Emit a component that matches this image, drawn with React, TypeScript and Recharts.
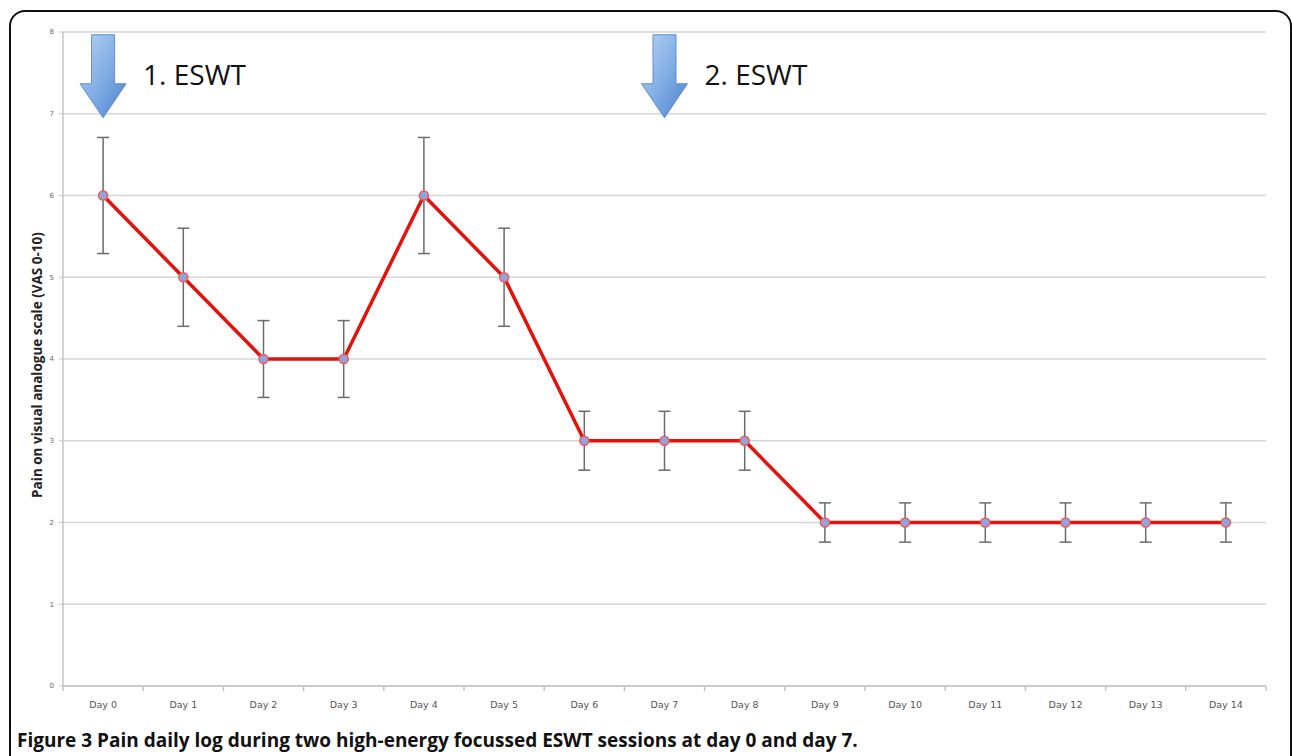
import React from 'react';
import {
  LineChart, Line, XAxis, YAxis, CartesianGrid, ErrorBar, ReferenceDot,
} from 'recharts';

// daily log, VAS 0-10
const dayLabels = ['Day 0', 'Day 1', 'Day 2', 'Day 3', 'Day 4', 'Day 5', 'Day 6', 'Day 7',
  'Day 8', 'Day 9', 'Day 10', 'Day 11', 'Day 12', 'Day 13', 'Day 14'];
const painValues = [6, 5, 4, 4, 6, 5, 3, 3, 3, 2, 2, 2, 2, 2, 2];
const painErrors = [0.71, 0.6, 0.47, 0.47, 0.71, 0.6, 0.36, 0.36, 0.36, 0.24, 0.24, 0.24, 0.24, 0.24, 0.24];
const yTicks = [0, 1, 2, 3, 4, 5, 6, 7, 8];
const sessions = [
  { day: 0, label: '1. ESWT' },
  { day: 7, label: '2. ESWT' },
];

const data = dayLabels.map((name, i) => ({ x: i, name, pain: painValues[i], err: painErrors[i] }));
// category centres for labels, boundaries for the tick marks
const xTicks = [
  ...dayLabels.map((_, i) => i),
  ...Array.from({ length: dayLabels.length + 1 }, (_, i) => i - 0.5),
];

const AXIS_GREY = '#c4c4c4';

const XTick = ({ x, y, payload }: any) => {
  const v = payload.value as number;
  if (!Number.isInteger(v)) {
    return <line x1={x} x2={x} y1={y - 5} y2={y} stroke={AXIS_GREY} strokeWidth={1.5} />;
  }
  return (
    <text x={x} y={y + 17} textAnchor="middle" fontSize={9.5} fill="#555" fontFamily="'DejaVu Sans', sans-serif">
      {dayLabels[v]}
    </text>
  );
};

const Marker = ({ cx, cy }: any) => (
  <circle cx={cx} cy={cy} r={4.5} fill="#93a3dd" stroke="#ec5a5a" strokeWidth={1.5} />
);

const SessionArrow = (label: string) => ({ cx, cy }: any) => (
  <g>
    <polygon
      points={`${cx - 11.5},${cy - 79} ${cx + 11.5},${cy - 79} ${cx + 11.5},${cy - 30} ${cx + 23},${cy - 30} ${cx},${cy + 4} ${cx - 23},${cy - 30} ${cx - 11.5},${cy - 30}`}
      fill="url(#arrowFill)"
      stroke="#5d8fd0"
      strokeWidth={1}
    />
    <text x={cx + 40} y={cy - 29} fontSize={28} fill="#111" fontFamily="'Open Sans', sans-serif">
      {label}
    </text>
  </g>
);

const YLabel = ({ viewBox }: any) => {
  const cx = viewBox.x + 24;
  const cy = viewBox.y + viewBox.height / 2 + 6;
  return (
    <text x={cx} y={cy} transform={`rotate(-90, ${cx}, ${cy})`} textAnchor="middle" dominantBaseline="central"
      fontSize={13.5} fontWeight="bold" fill="#222" fontFamily="'Open Sans', sans-serif">
      Pain on visual analogue scale (VAS 0-10)
    </text>
  );
};

export default function App() {
  return (
    <div style={{ position: 'absolute', left: 0, top: 0, width: 1292, height: 756, background: '#fff', overflow: 'hidden' }}>
      <div style={{
        position: 'absolute', left: 9, top: 10, width: 1279, height: 800,
        border: '2px solid #111', borderRadius: 16,
      }} />
      <div style={{ position: 'absolute', left: 0, top: 0 }}>
        <LineChart width={1292} height={756} data={data} margin={{ top: 32, right: 26, left: 13, bottom: 40 }}>
          <defs>
            <linearGradient id="arrowFill" x1="0" y1="0" x2="1" y2="1">
              <stop offset="0%" stopColor="#b9d3f2" />
              <stop offset="55%" stopColor="#7eaae4" />
              <stop offset="100%" stopColor="#4a80cb" />
            </linearGradient>
          </defs>
          <CartesianGrid vertical={false} stroke="#d6d6d6" strokeWidth={1.5} />
          <XAxis
            dataKey="x"
            type="number"
            domain={[-0.5, 14.5]}
            ticks={xTicks}
            interval={0}
            tick={<XTick />}
            tickLine={false}
            tickSize={5}
            tickMargin={0}
            axisLine={{ stroke: AXIS_GREY, strokeWidth: 1.5 }}
            height={30}
            allowDecimals
          />
          <YAxis
            type="number"
            domain={[0, 8]}
            ticks={yTicks}
            interval={0}
            width={50}
            tickSize={4}
            tickMargin={5}
            tick={{ fontSize: 7, fill: '#666', fontFamily: "'DejaVu Sans', sans-serif" }}
            tickLine={{ stroke: AXIS_GREY }}
            axisLine={{ stroke: AXIS_GREY, strokeWidth: 1.5 }}
            label={{ content: <YLabel /> } as any}
          />
          <Line
            dataKey="pain"
            stroke="#e4120c"
            strokeWidth={3.5}
            dot={<Marker />}
            activeDot={false}
            isAnimationActive={false}
          >
            <ErrorBar dataKey="err" width={6} stroke="#6b6b6b" strokeWidth={1.5} direction="y" />
          </Line>
          {sessions.map(s => (
            <ReferenceDot
              key={s.label}
              x={s.day}
              y={7}
              r={0}
              isFront
              shape={SessionArrow(s.label)}
            />
          ))}
        </LineChart>
      </div>
      <div style={{
        position: 'absolute', left: 17, top: 727, fontFamily: "'Open Sans', sans-serif",
        fontSize: 19, fontWeight: 'bold', color: '#111', whiteSpace: 'nowrap',
      }}>
        Figure 3 Pain daily log during two high-energy focussed ESWT sessions at day 0 and day 7.
      </div>
    </div>
  );
}
